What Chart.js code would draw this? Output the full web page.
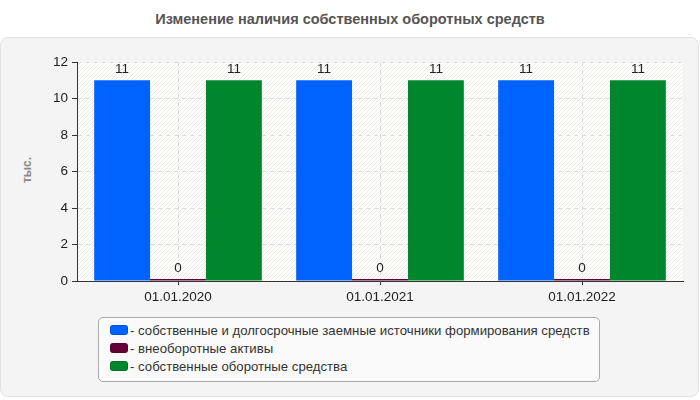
<!DOCTYPE html>
<html>
<head>
<meta charset="utf-8">
<script src="https://cdn.jsdelivr.net/npm/chart.js@4"></script>
<style>
  body { margin: 0; background: #fff; font-family: Arial, "Liberation Sans", sans-serif; }
  #wrap { position: relative; width: 700px; height: 400px; overflow: hidden; }
  #title { position: absolute; left: 0; top: 11px; width: 700px; text-align: center;
    font-size: 14.5px; font-weight: bold; color: #555; }
  #panel { position: absolute; left: 0; top: 37px; width: 697px; height: 358px;
    background: #f4f4f4; border: 1px solid #e2e2e2; border-radius: 8px; }
  #ytitle { position: absolute; left: 27px; top: 170px; transform: translate(-50%, -50%) rotate(-90deg);
    font-size: 12px; font-weight: bold; color: #888; }
  #legend { position: absolute; left: 98px; top: 317px; width: 502px; height: 65px;
    border: 1px solid #aaa; border-radius: 5px; background: #fafafa; box-sizing: border-box;
    padding: 4px 0 0 11px; font-size: 13.2px; color: #333; }
  .item { height: 18px; line-height: 18px; white-space: nowrap; }
  .sw { display: inline-block; width: 16px; height: 8px; border-radius: 3px; margin-right: 2px;
    vertical-align: 0px; border: 1px solid rgba(0,0,0,0.15); }
  canvas { position: absolute; left: 0; top: 0; }
</style>
</head>
<body>
<div id="wrap">
  <div id="title">Изменение наличия собственных оборотных средств</div>
  <div id="panel"></div>
  <div id="ytitle">тыс.</div>
  <canvas id="c" width="700" height="400"></canvas>
  <div id="legend"></div>
</div>
<script>
// categories and series
const dates = ['01.01.2020', '01.01.2021', '01.01.2022'];
const seriesNames = [
  'собственные и долгосрочные заемные источники формирования средств',
  'внеоборотные активы',
  'собственные оборотные средства'
];
const ownAndLongTerm = [11, 11, 11];
const nonCurrentAssets = [0, 0, 0];
const ownWorkingCapital = [11, 11, 11];
const yTicks = [0, 2, 4, 6, 8, 10, 12];
const colors = ['#0062ff', '#66003a', '#00872e'];

// html legend
const legendEl = document.getElementById('legend');
seriesNames.forEach((name, i) => {
  const d = document.createElement('div');
  d.className = 'item';
  d.innerHTML = '<span class="sw" style="background:' + colors[i] + '"></span>- ' + name;
  legendEl.appendChild(d);
});

// hatched white plot background
const plotBg = {
  id: 'plotBg',
  beforeDraw(chart) {
    const { ctx, chartArea: a } = chart;
    ctx.save();
    ctx.fillStyle = '#fff';
    ctx.fillRect(a.left, a.top, a.right - a.left, a.bottom - a.top);
    ctx.beginPath();
    ctx.rect(a.left, a.top, a.right - a.left, a.bottom - a.top);
    ctx.clip();
    ctx.strokeStyle = 'rgba(225,225,205,0.6)';
    ctx.lineWidth = 1;
    for (let x = a.left - (a.bottom - a.top); x < a.right; x += 4) {
      ctx.beginPath();
      ctx.moveTo(x, a.bottom);
      ctx.lineTo(x + (a.bottom - a.top), a.top);
      ctx.stroke();
    }
    ctx.restore();
  }
};

// value labels over bars
const valueLabels = {
  id: 'valueLabels',
  afterDatasetsDraw(chart) {
    const ctx = chart.ctx;
    ctx.save();
    ctx.font = '13.5px Arial, "Liberation Sans"';
    ctx.fillStyle = '#222';
    ctx.textAlign = 'center';
    ctx.textBaseline = 'bottom';
    chart.data.datasets.forEach((ds, i) => {
      chart.getDatasetMeta(i).data.forEach((bar, j) => {
        const top = Math.min(bar.y, chart.scales.y.getPixelForValue(0) - 2);
        ctx.fillText(Math.round(ds.data[j]), bar.x, top - 4);
      });
    });
    ctx.restore();
  }
};

new Chart(document.getElementById('c'), {
  type: 'bar',
  data: {
    labels: dates,
    datasets: [
      { label: seriesNames[0], data: ownAndLongTerm, backgroundColor: colors[0] },
      { label: seriesNames[1], data: nonCurrentAssets, backgroundColor: colors[1], minBarLength: 2 },
      { label: seriesNames[2], data: ownWorkingCapital, backgroundColor: colors[2] }
    ]
  },
  options: {
    responsive: false,
    animation: false,
    layout: { padding: { left: 0, right: 17, top: 62, bottom: 0 } },
    datasets: { bar: { categoryPercentage: 0.83, barPercentage: 1.0 } },
    plugins: { legend: { display: false }, tooltip: { enabled: false } },
    scales: {
      x: {
        afterFit(s) { s.height = 119; },
        grid: { offset: false, color: '#ddd', tickColor: '#333', tickLength: 4, drawTicks: true },
        border: { color: '#333', dash: [4, 4] },
        ticks: { color: '#222', font: { size: 13.5, family: 'Arial' }, padding: 4 }
      },
      y: {
        min: 0, max: 12,
        afterFit(s) { s.width = 77; },
        afterBuildTicks(s) { s.ticks = yTicks.map(v => ({ value: v })); },
        grid: { color: '#ddd', tickColor: '#333', tickLength: 5 },
        border: { color: '#333', dash: [4, 4] },
        ticks: { color: '#222', font: { size: 13.5, family: 'Arial' }, padding: 4 }
      }
    }
  },
  plugins: [plotBg, valueLabels]
});
</script>
</body>
</html>
